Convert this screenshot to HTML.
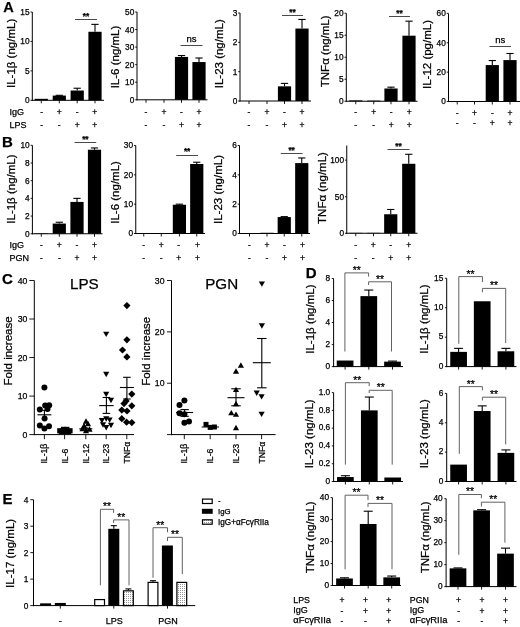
<!DOCTYPE html><html><head><meta charset="utf-8"><style>html,body{margin:0;padding:0;background:#fff;}svg{display:block;}text{font-family:"Liberation Sans", Arial, sans-serif;stroke:#000;stroke-width:0.25px;}</style></head><body>
<svg width="520" height="627" viewBox="0 0 520 627">
<defs><pattern id="dots" width="2" height="2" patternUnits="userSpaceOnUse"><rect width="2" height="2" fill="#fff"/><rect x="0" y="0" width="1" height="1" fill="#999"/></pattern></defs>
<rect width="520" height="627" fill="#fff"/>
<text x="3.20" y="11.80" font-size="14.6" text-anchor="start" font-weight="bold" fill="#000">A</text>
<line x1="32.30" y1="12.00" x2="32.30" y2="100.80" stroke="#000" stroke-width="1.0"/>
<line x1="31.80" y1="100.30" x2="104.00" y2="100.30" stroke="#000" stroke-width="1.0"/>
<line x1="30.50" y1="100.30" x2="32.30" y2="100.30" stroke="#000" stroke-width="0.9"/>
<text x="29.60" y="103.29" font-size="8.3" text-anchor="end" fill="#000">0</text>
<line x1="30.50" y1="70.87" x2="32.30" y2="70.87" stroke="#000" stroke-width="0.9"/>
<text x="29.60" y="73.85" font-size="8.3" text-anchor="end" fill="#000">5</text>
<line x1="30.50" y1="41.43" x2="32.30" y2="41.43" stroke="#000" stroke-width="0.9"/>
<text x="29.60" y="44.42" font-size="8.3" text-anchor="end" fill="#000">10</text>
<line x1="30.50" y1="12.00" x2="32.30" y2="12.00" stroke="#000" stroke-width="0.9"/>
<text x="29.60" y="14.99" font-size="8.3" text-anchor="end" fill="#000">15</text>
<line x1="41.30" y1="100.30" x2="41.30" y2="103.30" stroke="#000" stroke-width="0.9"/>
<line x1="59.30" y1="100.30" x2="59.30" y2="103.30" stroke="#000" stroke-width="0.9"/>
<line x1="77.20" y1="100.30" x2="77.20" y2="103.30" stroke="#000" stroke-width="0.9"/>
<line x1="95.00" y1="100.30" x2="95.00" y2="103.30" stroke="#000" stroke-width="0.9"/>
<text x="15.18" y="53.40" font-size="11.5" text-anchor="middle" transform="rotate(-90 15.18 53.40)" fill="#000">IL-1β (ng/mL)</text>
<rect x="34.70" y="98.83" width="13.20" height="1.47" fill="#000"/>
<line x1="59.30" y1="95.30" x2="59.30" y2="95.59" stroke="#000" stroke-width="1.1"/>
<line x1="55.67" y1="95.30" x2="62.93" y2="95.30" stroke="#000" stroke-width="1.1"/>
<rect x="52.70" y="95.59" width="13.20" height="4.71" fill="#000"/>
<line x1="77.20" y1="88.23" x2="77.20" y2="90.53" stroke="#000" stroke-width="1.1"/>
<line x1="73.57" y1="88.23" x2="80.83" y2="88.23" stroke="#000" stroke-width="1.1"/>
<rect x="70.60" y="90.53" width="13.20" height="9.77" fill="#000"/>
<line x1="95.00" y1="24.36" x2="95.00" y2="31.78" stroke="#000" stroke-width="1.1"/>
<line x1="91.37" y1="24.36" x2="98.63" y2="24.36" stroke="#000" stroke-width="1.1"/>
<rect x="88.40" y="31.78" width="13.20" height="68.52" fill="#000"/>
<line x1="75.00" y1="19.50" x2="97.00" y2="19.50" stroke="#4a4a4a" stroke-width="1.0"/>
<text x="86.00" y="19.10" font-size="8.3" text-anchor="middle" font-weight="bold" fill="#000">**</text>
<line x1="137.00" y1="12.00" x2="137.00" y2="100.30" stroke="#000" stroke-width="1.0"/>
<line x1="136.50" y1="99.80" x2="207.50" y2="99.80" stroke="#000" stroke-width="1.0"/>
<line x1="135.20" y1="99.80" x2="137.00" y2="99.80" stroke="#000" stroke-width="0.9"/>
<text x="134.30" y="102.79" font-size="8.3" text-anchor="end" fill="#000">0</text>
<line x1="135.20" y1="82.24" x2="137.00" y2="82.24" stroke="#000" stroke-width="0.9"/>
<text x="134.30" y="85.23" font-size="8.3" text-anchor="end" fill="#000">10</text>
<line x1="135.20" y1="64.68" x2="137.00" y2="64.68" stroke="#000" stroke-width="0.9"/>
<text x="134.30" y="67.67" font-size="8.3" text-anchor="end" fill="#000">20</text>
<line x1="135.20" y1="47.12" x2="137.00" y2="47.12" stroke="#000" stroke-width="0.9"/>
<text x="134.30" y="50.11" font-size="8.3" text-anchor="end" fill="#000">30</text>
<line x1="135.20" y1="29.56" x2="137.00" y2="29.56" stroke="#000" stroke-width="0.9"/>
<text x="134.30" y="32.55" font-size="8.3" text-anchor="end" fill="#000">40</text>
<line x1="135.20" y1="12.00" x2="137.00" y2="12.00" stroke="#000" stroke-width="0.9"/>
<text x="134.30" y="14.99" font-size="8.3" text-anchor="end" fill="#000">50</text>
<line x1="146.00" y1="99.80" x2="146.00" y2="102.80" stroke="#000" stroke-width="0.9"/>
<line x1="164.00" y1="99.80" x2="164.00" y2="102.80" stroke="#000" stroke-width="0.9"/>
<line x1="181.50" y1="99.80" x2="181.50" y2="102.80" stroke="#000" stroke-width="0.9"/>
<line x1="199.00" y1="99.80" x2="199.00" y2="102.80" stroke="#000" stroke-width="0.9"/>
<text x="118.88" y="57.00" font-size="11.5" text-anchor="middle" transform="rotate(-90 118.88 57.00)" fill="#000">IL-6 (ng/mL)</text>
<line x1="181.50" y1="55.55" x2="181.50" y2="56.95" stroke="#000" stroke-width="1.1"/>
<line x1="177.87" y1="55.55" x2="185.13" y2="55.55" stroke="#000" stroke-width="1.1"/>
<rect x="174.90" y="56.95" width="13.20" height="42.85" fill="#000"/>
<line x1="199.00" y1="58.01" x2="199.00" y2="62.05" stroke="#000" stroke-width="1.1"/>
<line x1="195.37" y1="58.01" x2="202.63" y2="58.01" stroke="#000" stroke-width="1.1"/>
<rect x="192.40" y="62.05" width="13.20" height="37.75" fill="#000"/>
<line x1="180.50" y1="45.50" x2="202.50" y2="45.50" stroke="#4a4a4a" stroke-width="1.0"/>
<text x="191.50" y="41.90" font-size="9.5" text-anchor="middle" fill="#000">ns</text>
<line x1="240.00" y1="13.00" x2="240.00" y2="101.50" stroke="#000" stroke-width="1.0"/>
<line x1="239.50" y1="101.00" x2="311.00" y2="101.00" stroke="#000" stroke-width="1.0"/>
<line x1="238.20" y1="101.00" x2="240.00" y2="101.00" stroke="#000" stroke-width="0.9"/>
<text x="237.30" y="103.99" font-size="8.3" text-anchor="end" fill="#000">0</text>
<line x1="238.20" y1="71.67" x2="240.00" y2="71.67" stroke="#000" stroke-width="0.9"/>
<text x="237.30" y="74.65" font-size="8.3" text-anchor="end" fill="#000">1</text>
<line x1="238.20" y1="42.33" x2="240.00" y2="42.33" stroke="#000" stroke-width="0.9"/>
<text x="237.30" y="45.32" font-size="8.3" text-anchor="end" fill="#000">2</text>
<line x1="238.20" y1="13.00" x2="240.00" y2="13.00" stroke="#000" stroke-width="0.9"/>
<text x="237.30" y="15.99" font-size="8.3" text-anchor="end" fill="#000">3</text>
<line x1="249.00" y1="101.00" x2="249.00" y2="104.00" stroke="#000" stroke-width="0.9"/>
<line x1="267.00" y1="101.00" x2="267.00" y2="104.00" stroke="#000" stroke-width="0.9"/>
<line x1="284.50" y1="101.00" x2="284.50" y2="104.00" stroke="#000" stroke-width="0.9"/>
<line x1="302.00" y1="101.00" x2="302.00" y2="104.00" stroke="#000" stroke-width="0.9"/>
<text x="223.18" y="53.75" font-size="11.5" text-anchor="middle" transform="rotate(-90 223.18 53.75)" fill="#000">IL-23 (ng/mL)</text>
<line x1="284.50" y1="83.40" x2="284.50" y2="86.33" stroke="#000" stroke-width="1.1"/>
<line x1="280.87" y1="83.40" x2="288.13" y2="83.40" stroke="#000" stroke-width="1.1"/>
<rect x="277.90" y="86.33" width="13.20" height="14.67" fill="#000"/>
<line x1="302.00" y1="19.45" x2="302.00" y2="28.55" stroke="#000" stroke-width="1.1"/>
<line x1="298.37" y1="19.45" x2="305.63" y2="19.45" stroke="#000" stroke-width="1.1"/>
<rect x="295.40" y="28.55" width="13.20" height="72.45" fill="#000"/>
<line x1="282.00" y1="15.50" x2="303.00" y2="15.50" stroke="#4a4a4a" stroke-width="1.0"/>
<text x="292.50" y="14.90" font-size="8.3" text-anchor="middle" font-weight="bold" fill="#000">**</text>
<line x1="346.30" y1="13.25" x2="346.30" y2="101.75" stroke="#000" stroke-width="1.0"/>
<line x1="345.80" y1="101.25" x2="417.50" y2="101.25" stroke="#000" stroke-width="1.0"/>
<line x1="344.50" y1="101.25" x2="346.30" y2="101.25" stroke="#000" stroke-width="0.9"/>
<text x="343.60" y="104.24" font-size="8.3" text-anchor="end" fill="#000">0</text>
<line x1="344.50" y1="79.25" x2="346.30" y2="79.25" stroke="#000" stroke-width="0.9"/>
<text x="343.60" y="82.24" font-size="8.3" text-anchor="end" fill="#000">5</text>
<line x1="344.50" y1="57.25" x2="346.30" y2="57.25" stroke="#000" stroke-width="0.9"/>
<text x="343.60" y="60.24" font-size="8.3" text-anchor="end" fill="#000">10</text>
<line x1="344.50" y1="35.25" x2="346.30" y2="35.25" stroke="#000" stroke-width="0.9"/>
<text x="343.60" y="38.24" font-size="8.3" text-anchor="end" fill="#000">15</text>
<line x1="344.50" y1="13.25" x2="346.30" y2="13.25" stroke="#000" stroke-width="0.9"/>
<text x="343.60" y="16.24" font-size="8.3" text-anchor="end" fill="#000">20</text>
<line x1="355.75" y1="101.25" x2="355.75" y2="104.25" stroke="#000" stroke-width="0.9"/>
<line x1="373.75" y1="101.25" x2="373.75" y2="104.25" stroke="#000" stroke-width="0.9"/>
<line x1="391.00" y1="101.25" x2="391.00" y2="104.25" stroke="#000" stroke-width="0.9"/>
<line x1="409.00" y1="101.25" x2="409.00" y2="104.25" stroke="#000" stroke-width="0.9"/>
<text x="329.38" y="51.30" font-size="11.5" text-anchor="middle" transform="rotate(-90 329.38 51.30)" fill="#000">TNFα (ng/mL)</text>
<rect x="349.15" y="100.37" width="13.20" height="0.88" fill="#000"/>
<rect x="367.15" y="100.59" width="13.20" height="0.66" fill="#000"/>
<line x1="391.00" y1="87.17" x2="391.00" y2="88.49" stroke="#000" stroke-width="1.1"/>
<line x1="387.37" y1="87.17" x2="394.63" y2="87.17" stroke="#000" stroke-width="1.1"/>
<rect x="384.40" y="88.49" width="13.20" height="12.76" fill="#000"/>
<line x1="409.00" y1="21.17" x2="409.00" y2="35.69" stroke="#000" stroke-width="1.1"/>
<line x1="405.37" y1="21.17" x2="412.63" y2="21.17" stroke="#000" stroke-width="1.1"/>
<rect x="402.40" y="35.69" width="13.20" height="65.56" fill="#000"/>
<line x1="389.00" y1="16.50" x2="410.00" y2="16.50" stroke="#4a4a4a" stroke-width="1.0"/>
<text x="399.50" y="15.90" font-size="8.3" text-anchor="middle" font-weight="bold" fill="#000">**</text>
<line x1="448.50" y1="13.40" x2="448.50" y2="102.00" stroke="#000" stroke-width="1.0"/>
<line x1="448.00" y1="101.50" x2="520.00" y2="101.50" stroke="#000" stroke-width="1.0"/>
<line x1="446.70" y1="101.50" x2="448.50" y2="101.50" stroke="#000" stroke-width="0.9"/>
<text x="445.80" y="104.49" font-size="8.3" text-anchor="end" fill="#000">0</text>
<line x1="446.70" y1="72.13" x2="448.50" y2="72.13" stroke="#000" stroke-width="0.9"/>
<text x="445.80" y="75.12" font-size="8.3" text-anchor="end" fill="#000">20</text>
<line x1="446.70" y1="42.77" x2="448.50" y2="42.77" stroke="#000" stroke-width="0.9"/>
<text x="445.80" y="45.75" font-size="8.3" text-anchor="end" fill="#000">40</text>
<line x1="446.70" y1="13.40" x2="448.50" y2="13.40" stroke="#000" stroke-width="0.9"/>
<text x="445.80" y="16.39" font-size="8.3" text-anchor="end" fill="#000">60</text>
<line x1="457.20" y1="101.50" x2="457.20" y2="104.50" stroke="#000" stroke-width="0.9"/>
<line x1="474.50" y1="101.50" x2="474.50" y2="104.50" stroke="#000" stroke-width="0.9"/>
<line x1="492.30" y1="101.50" x2="492.30" y2="104.50" stroke="#000" stroke-width="0.9"/>
<line x1="510.00" y1="101.50" x2="510.00" y2="104.50" stroke="#000" stroke-width="0.9"/>
<text x="430.88" y="54.50" font-size="11.5" text-anchor="middle" transform="rotate(-90 430.88 54.50)" fill="#000">IL-12 (pg/mL)</text>
<line x1="492.30" y1="60.53" x2="492.30" y2="65.09" stroke="#000" stroke-width="1.1"/>
<line x1="488.67" y1="60.53" x2="495.93" y2="60.53" stroke="#000" stroke-width="1.1"/>
<rect x="485.70" y="65.09" width="13.20" height="36.41" fill="#000"/>
<line x1="510.00" y1="53.49" x2="510.00" y2="60.09" stroke="#000" stroke-width="1.1"/>
<line x1="506.37" y1="53.49" x2="513.63" y2="53.49" stroke="#000" stroke-width="1.1"/>
<rect x="503.40" y="60.09" width="13.20" height="41.41" fill="#000"/>
<line x1="489.50" y1="46.50" x2="511.00" y2="46.50" stroke="#4a4a4a" stroke-width="1.0"/>
<text x="500.25" y="43.20" font-size="9.5" text-anchor="middle" fill="#000">ns</text>
<text x="9.50" y="114.50" font-size="9" text-anchor="start" fill="#000">IgG</text>
<text x="9.50" y="127.50" font-size="9" text-anchor="start" fill="#000">LPS</text>
<text x="41.70" y="114.55" font-size="8.5" text-anchor="middle" fill="#000">-</text>
<text x="59.20" y="114.55" font-size="8.5" text-anchor="middle" fill="#000">+</text>
<text x="77.20" y="114.55" font-size="8.5" text-anchor="middle" fill="#000">-</text>
<text x="94.80" y="114.55" font-size="8.5" text-anchor="middle" fill="#000">+</text>
<text x="41.70" y="127.85" font-size="8.5" text-anchor="middle" fill="#000">-</text>
<text x="59.20" y="127.85" font-size="8.5" text-anchor="middle" fill="#000">-</text>
<text x="77.20" y="127.85" font-size="8.5" text-anchor="middle" fill="#000">+</text>
<text x="94.80" y="127.85" font-size="8.5" text-anchor="middle" fill="#000">+</text>
<text x="146.00" y="114.55" font-size="8.5" text-anchor="middle" fill="#000">-</text>
<text x="164.00" y="114.55" font-size="8.5" text-anchor="middle" fill="#000">+</text>
<text x="181.50" y="114.55" font-size="8.5" text-anchor="middle" fill="#000">-</text>
<text x="199.00" y="114.55" font-size="8.5" text-anchor="middle" fill="#000">+</text>
<text x="146.00" y="127.85" font-size="8.5" text-anchor="middle" fill="#000">-</text>
<text x="164.00" y="127.85" font-size="8.5" text-anchor="middle" fill="#000">-</text>
<text x="181.50" y="127.85" font-size="8.5" text-anchor="middle" fill="#000">+</text>
<text x="199.00" y="127.85" font-size="8.5" text-anchor="middle" fill="#000">+</text>
<text x="249.00" y="114.55" font-size="8.5" text-anchor="middle" fill="#000">-</text>
<text x="267.00" y="114.55" font-size="8.5" text-anchor="middle" fill="#000">+</text>
<text x="284.50" y="114.55" font-size="8.5" text-anchor="middle" fill="#000">-</text>
<text x="302.00" y="114.55" font-size="8.5" text-anchor="middle" fill="#000">+</text>
<text x="249.00" y="127.85" font-size="8.5" text-anchor="middle" fill="#000">-</text>
<text x="267.00" y="127.85" font-size="8.5" text-anchor="middle" fill="#000">-</text>
<text x="284.50" y="127.85" font-size="8.5" text-anchor="middle" fill="#000">+</text>
<text x="302.00" y="127.85" font-size="8.5" text-anchor="middle" fill="#000">+</text>
<text x="355.75" y="114.55" font-size="8.5" text-anchor="middle" fill="#000">-</text>
<text x="373.75" y="114.55" font-size="8.5" text-anchor="middle" fill="#000">+</text>
<text x="391.25" y="114.55" font-size="8.5" text-anchor="middle" fill="#000">-</text>
<text x="409.25" y="114.55" font-size="8.5" text-anchor="middle" fill="#000">+</text>
<text x="355.75" y="127.85" font-size="8.5" text-anchor="middle" fill="#000">-</text>
<text x="373.75" y="127.85" font-size="8.5" text-anchor="middle" fill="#000">-</text>
<text x="391.25" y="127.85" font-size="8.5" text-anchor="middle" fill="#000">+</text>
<text x="409.25" y="127.85" font-size="8.5" text-anchor="middle" fill="#000">+</text>
<text x="457.20" y="116.45" font-size="8.5" text-anchor="middle" fill="#000">-</text>
<text x="474.50" y="116.45" font-size="8.5" text-anchor="middle" fill="#000">+</text>
<text x="492.30" y="116.45" font-size="8.5" text-anchor="middle" fill="#000">-</text>
<text x="510.00" y="116.45" font-size="8.5" text-anchor="middle" fill="#000">+</text>
<text x="457.20" y="125.75" font-size="8.5" text-anchor="middle" fill="#000">-</text>
<text x="474.50" y="125.75" font-size="8.5" text-anchor="middle" fill="#000">-</text>
<text x="492.30" y="125.75" font-size="8.5" text-anchor="middle" fill="#000">+</text>
<text x="510.00" y="125.75" font-size="8.5" text-anchor="middle" fill="#000">+</text>
<text x="1.90" y="146.60" font-size="15" text-anchor="start" font-weight="bold" fill="#000">B</text>
<line x1="32.40" y1="145.30" x2="32.40" y2="234.25" stroke="#000" stroke-width="1.0"/>
<line x1="31.90" y1="233.75" x2="102.50" y2="233.75" stroke="#000" stroke-width="1.0"/>
<line x1="30.60" y1="233.75" x2="32.40" y2="233.75" stroke="#000" stroke-width="0.9"/>
<text x="29.70" y="236.74" font-size="8.3" text-anchor="end" fill="#000">0</text>
<line x1="30.60" y1="216.06" x2="32.40" y2="216.06" stroke="#000" stroke-width="0.9"/>
<text x="29.70" y="219.05" font-size="8.3" text-anchor="end" fill="#000">2</text>
<line x1="30.60" y1="198.37" x2="32.40" y2="198.37" stroke="#000" stroke-width="0.9"/>
<text x="29.70" y="201.36" font-size="8.3" text-anchor="end" fill="#000">4</text>
<line x1="30.60" y1="180.68" x2="32.40" y2="180.68" stroke="#000" stroke-width="0.9"/>
<text x="29.70" y="183.67" font-size="8.3" text-anchor="end" fill="#000">6</text>
<line x1="30.60" y1="162.99" x2="32.40" y2="162.99" stroke="#000" stroke-width="0.9"/>
<text x="29.70" y="165.98" font-size="8.3" text-anchor="end" fill="#000">8</text>
<line x1="30.60" y1="145.30" x2="32.40" y2="145.30" stroke="#000" stroke-width="0.9"/>
<text x="29.70" y="148.29" font-size="8.3" text-anchor="end" fill="#000">10</text>
<line x1="41.30" y1="233.75" x2="41.30" y2="236.75" stroke="#000" stroke-width="0.9"/>
<line x1="59.30" y1="233.75" x2="59.30" y2="236.75" stroke="#000" stroke-width="0.9"/>
<line x1="77.00" y1="233.75" x2="77.00" y2="236.75" stroke="#000" stroke-width="0.9"/>
<line x1="94.50" y1="233.75" x2="94.50" y2="236.75" stroke="#000" stroke-width="0.9"/>
<text x="14.88" y="189.10" font-size="11.5" text-anchor="middle" transform="rotate(-90 14.88 189.10)" fill="#000">IL-1β (ng/mL)</text>
<rect x="34.70" y="233.31" width="13.20" height="0.44" fill="#000"/>
<line x1="59.30" y1="222.25" x2="59.30" y2="223.58" stroke="#000" stroke-width="1.1"/>
<line x1="55.67" y1="222.25" x2="62.93" y2="222.25" stroke="#000" stroke-width="1.1"/>
<rect x="52.70" y="223.58" width="13.20" height="10.17" fill="#000"/>
<line x1="77.00" y1="198.37" x2="77.00" y2="201.91" stroke="#000" stroke-width="1.1"/>
<line x1="73.37" y1="198.37" x2="80.63" y2="198.37" stroke="#000" stroke-width="1.1"/>
<rect x="70.40" y="201.91" width="13.20" height="31.84" fill="#000"/>
<line x1="94.50" y1="147.95" x2="94.50" y2="149.72" stroke="#000" stroke-width="1.1"/>
<line x1="90.87" y1="147.95" x2="98.13" y2="147.95" stroke="#000" stroke-width="1.1"/>
<rect x="87.90" y="149.72" width="13.20" height="84.03" fill="#000"/>
<line x1="74.50" y1="142.50" x2="96.25" y2="142.50" stroke="#4a4a4a" stroke-width="1.0"/>
<text x="85.38" y="141.90" font-size="8.3" text-anchor="middle" font-weight="bold" fill="#000">**</text>
<line x1="135.75" y1="145.50" x2="135.75" y2="234.00" stroke="#000" stroke-width="1.0"/>
<line x1="135.25" y1="233.50" x2="205.00" y2="233.50" stroke="#000" stroke-width="1.0"/>
<line x1="133.95" y1="233.50" x2="135.75" y2="233.50" stroke="#000" stroke-width="0.9"/>
<text x="133.05" y="236.49" font-size="8.3" text-anchor="end" fill="#000">0</text>
<line x1="133.95" y1="204.17" x2="135.75" y2="204.17" stroke="#000" stroke-width="0.9"/>
<text x="133.05" y="207.15" font-size="8.3" text-anchor="end" fill="#000">10</text>
<line x1="133.95" y1="174.83" x2="135.75" y2="174.83" stroke="#000" stroke-width="0.9"/>
<text x="133.05" y="177.82" font-size="8.3" text-anchor="end" fill="#000">20</text>
<line x1="133.95" y1="145.50" x2="135.75" y2="145.50" stroke="#000" stroke-width="0.9"/>
<text x="133.05" y="148.49" font-size="8.3" text-anchor="end" fill="#000">30</text>
<line x1="143.75" y1="233.50" x2="143.75" y2="236.50" stroke="#000" stroke-width="0.9"/>
<line x1="161.25" y1="233.50" x2="161.25" y2="236.50" stroke="#000" stroke-width="0.9"/>
<line x1="179.40" y1="233.50" x2="179.40" y2="236.50" stroke="#000" stroke-width="0.9"/>
<line x1="196.75" y1="233.50" x2="196.75" y2="236.50" stroke="#000" stroke-width="0.9"/>
<text x="119.48" y="192.40" font-size="11.5" text-anchor="middle" transform="rotate(-90 119.48 192.40)" fill="#000">IL-6 (ng/mL)</text>
<line x1="179.40" y1="204.17" x2="179.40" y2="204.75" stroke="#000" stroke-width="1.1"/>
<line x1="175.77" y1="204.17" x2="183.03" y2="204.17" stroke="#000" stroke-width="1.1"/>
<rect x="172.80" y="204.75" width="13.20" height="28.75" fill="#000"/>
<line x1="196.75" y1="162.22" x2="196.75" y2="163.98" stroke="#000" stroke-width="1.1"/>
<line x1="193.12" y1="162.22" x2="200.38" y2="162.22" stroke="#000" stroke-width="1.1"/>
<rect x="190.15" y="163.98" width="13.20" height="69.52" fill="#000"/>
<line x1="176.25" y1="155.50" x2="198.00" y2="155.50" stroke="#4a4a4a" stroke-width="1.0"/>
<text x="187.12" y="154.40" font-size="8.3" text-anchor="middle" font-weight="bold" fill="#000">**</text>
<line x1="239.50" y1="145.50" x2="239.50" y2="234.00" stroke="#000" stroke-width="1.0"/>
<line x1="239.00" y1="233.50" x2="310.00" y2="233.50" stroke="#000" stroke-width="1.0"/>
<line x1="237.70" y1="233.50" x2="239.50" y2="233.50" stroke="#000" stroke-width="0.9"/>
<text x="236.80" y="236.49" font-size="8.3" text-anchor="end" fill="#000">0</text>
<line x1="237.70" y1="204.17" x2="239.50" y2="204.17" stroke="#000" stroke-width="0.9"/>
<text x="236.80" y="207.15" font-size="8.3" text-anchor="end" fill="#000">2</text>
<line x1="237.70" y1="174.83" x2="239.50" y2="174.83" stroke="#000" stroke-width="0.9"/>
<text x="236.80" y="177.82" font-size="8.3" text-anchor="end" fill="#000">4</text>
<line x1="237.70" y1="145.50" x2="239.50" y2="145.50" stroke="#000" stroke-width="0.9"/>
<text x="236.80" y="148.49" font-size="8.3" text-anchor="end" fill="#000">6</text>
<line x1="249.50" y1="233.50" x2="249.50" y2="236.50" stroke="#000" stroke-width="0.9"/>
<line x1="267.00" y1="233.50" x2="267.00" y2="236.50" stroke="#000" stroke-width="0.9"/>
<line x1="284.25" y1="233.50" x2="284.25" y2="236.50" stroke="#000" stroke-width="0.9"/>
<line x1="301.75" y1="233.50" x2="301.75" y2="236.50" stroke="#000" stroke-width="0.9"/>
<text x="222.48" y="189.50" font-size="11.5" text-anchor="middle" transform="rotate(-90 222.48 189.50)" fill="#000">IL-23 (ng/mL)</text>
<rect x="260.40" y="232.77" width="13.20" height="0.73" fill="#000"/>
<line x1="284.25" y1="216.63" x2="284.25" y2="217.07" stroke="#000" stroke-width="1.1"/>
<line x1="280.62" y1="216.63" x2="287.88" y2="216.63" stroke="#000" stroke-width="1.1"/>
<rect x="277.65" y="217.07" width="13.20" height="16.43" fill="#000"/>
<line x1="301.75" y1="157.97" x2="301.75" y2="163.10" stroke="#000" stroke-width="1.1"/>
<line x1="298.12" y1="157.97" x2="305.38" y2="157.97" stroke="#000" stroke-width="1.1"/>
<rect x="295.15" y="163.10" width="13.20" height="70.40" fill="#000"/>
<line x1="280.75" y1="153.50" x2="302.50" y2="153.50" stroke="#4a4a4a" stroke-width="1.0"/>
<text x="291.62" y="152.65" font-size="8.3" text-anchor="middle" font-weight="bold" fill="#000">**</text>
<line x1="346.75" y1="145.50" x2="346.75" y2="233.75" stroke="#000" stroke-width="1.0"/>
<line x1="346.25" y1="233.25" x2="417.50" y2="233.25" stroke="#000" stroke-width="1.0"/>
<line x1="344.95" y1="233.25" x2="346.75" y2="233.25" stroke="#000" stroke-width="0.9"/>
<text x="344.05" y="236.24" font-size="8.3" text-anchor="end" fill="#000">0</text>
<line x1="344.95" y1="196.69" x2="346.75" y2="196.69" stroke="#000" stroke-width="0.9"/>
<text x="344.05" y="199.68" font-size="8.3" text-anchor="end" fill="#000">50</text>
<line x1="344.95" y1="160.12" x2="346.75" y2="160.12" stroke="#000" stroke-width="0.9"/>
<text x="344.05" y="163.11" font-size="8.3" text-anchor="end" fill="#000">100</text>
<line x1="355.75" y1="233.25" x2="355.75" y2="236.25" stroke="#000" stroke-width="0.9"/>
<line x1="373.50" y1="233.25" x2="373.50" y2="236.25" stroke="#000" stroke-width="0.9"/>
<line x1="390.75" y1="233.25" x2="390.75" y2="236.25" stroke="#000" stroke-width="0.9"/>
<line x1="408.75" y1="233.25" x2="408.75" y2="236.25" stroke="#000" stroke-width="0.9"/>
<text x="325.88" y="188.00" font-size="11.5" text-anchor="middle" transform="rotate(-90 325.88 188.00)" fill="#000">TNFα (ng/mL)</text>
<rect x="349.15" y="232.88" width="13.20" height="0.37" fill="#000"/>
<rect x="366.90" y="232.88" width="13.20" height="0.37" fill="#000"/>
<line x1="390.75" y1="209.48" x2="390.75" y2="214.24" stroke="#000" stroke-width="1.1"/>
<line x1="387.12" y1="209.48" x2="394.38" y2="209.48" stroke="#000" stroke-width="1.1"/>
<rect x="384.15" y="214.24" width="13.20" height="19.01" fill="#000"/>
<line x1="408.75" y1="154.28" x2="408.75" y2="163.78" stroke="#000" stroke-width="1.1"/>
<line x1="405.12" y1="154.28" x2="412.38" y2="154.28" stroke="#000" stroke-width="1.1"/>
<rect x="402.15" y="163.78" width="13.20" height="69.47" fill="#000"/>
<line x1="387.50" y1="149.50" x2="409.50" y2="149.50" stroke="#4a4a4a" stroke-width="1.0"/>
<text x="398.50" y="148.90" font-size="8.3" text-anchor="middle" font-weight="bold" fill="#000">**</text>
<text x="9.50" y="248.30" font-size="9" text-anchor="start" fill="#000">IgG</text>
<text x="9.50" y="261.00" font-size="9" text-anchor="start" fill="#000">PGN</text>
<text x="41.30" y="248.05" font-size="8.5" text-anchor="middle" fill="#000">-</text>
<text x="59.30" y="248.05" font-size="8.5" text-anchor="middle" fill="#000">+</text>
<text x="77.00" y="248.05" font-size="8.5" text-anchor="middle" fill="#000">-</text>
<text x="94.50" y="248.05" font-size="8.5" text-anchor="middle" fill="#000">+</text>
<text x="41.30" y="260.55" font-size="8.5" text-anchor="middle" fill="#000">-</text>
<text x="59.30" y="260.55" font-size="8.5" text-anchor="middle" fill="#000">-</text>
<text x="77.00" y="260.55" font-size="8.5" text-anchor="middle" fill="#000">+</text>
<text x="94.50" y="260.55" font-size="8.5" text-anchor="middle" fill="#000">+</text>
<text x="143.75" y="248.05" font-size="8.5" text-anchor="middle" fill="#000">-</text>
<text x="161.25" y="248.05" font-size="8.5" text-anchor="middle" fill="#000">+</text>
<text x="178.75" y="248.05" font-size="8.5" text-anchor="middle" fill="#000">-</text>
<text x="197.50" y="248.05" font-size="8.5" text-anchor="middle" fill="#000">+</text>
<text x="143.75" y="260.55" font-size="8.5" text-anchor="middle" fill="#000">-</text>
<text x="161.25" y="260.55" font-size="8.5" text-anchor="middle" fill="#000">-</text>
<text x="178.75" y="260.55" font-size="8.5" text-anchor="middle" fill="#000">+</text>
<text x="197.50" y="260.55" font-size="8.5" text-anchor="middle" fill="#000">+</text>
<text x="249.50" y="248.05" font-size="8.5" text-anchor="middle" fill="#000">-</text>
<text x="267.00" y="248.05" font-size="8.5" text-anchor="middle" fill="#000">+</text>
<text x="284.50" y="248.05" font-size="8.5" text-anchor="middle" fill="#000">-</text>
<text x="302.50" y="248.05" font-size="8.5" text-anchor="middle" fill="#000">+</text>
<text x="249.50" y="260.55" font-size="8.5" text-anchor="middle" fill="#000">-</text>
<text x="267.00" y="260.55" font-size="8.5" text-anchor="middle" fill="#000">-</text>
<text x="284.50" y="260.55" font-size="8.5" text-anchor="middle" fill="#000">+</text>
<text x="302.50" y="260.55" font-size="8.5" text-anchor="middle" fill="#000">+</text>
<text x="355.75" y="248.05" font-size="8.5" text-anchor="middle" fill="#000">-</text>
<text x="373.25" y="248.05" font-size="8.5" text-anchor="middle" fill="#000">+</text>
<text x="390.75" y="248.05" font-size="8.5" text-anchor="middle" fill="#000">-</text>
<text x="408.75" y="248.05" font-size="8.5" text-anchor="middle" fill="#000">+</text>
<text x="355.75" y="260.55" font-size="8.5" text-anchor="middle" fill="#000">-</text>
<text x="373.25" y="260.55" font-size="8.5" text-anchor="middle" fill="#000">-</text>
<text x="390.75" y="260.55" font-size="8.5" text-anchor="middle" fill="#000">+</text>
<text x="408.75" y="260.55" font-size="8.5" text-anchor="middle" fill="#000">+</text>
<text x="1.90" y="283.80" font-size="15" text-anchor="start" font-weight="bold" fill="#000">C</text>
<line x1="34.30" y1="280.50" x2="34.30" y2="435.10" stroke="#000" stroke-width="1.0"/>
<line x1="33.80" y1="434.60" x2="134.00" y2="434.60" stroke="#000" stroke-width="1.0"/>
<line x1="29.30" y1="434.60" x2="34.30" y2="434.60" stroke="#000" stroke-width="0.9"/>
<text x="27.30" y="437.73" font-size="8.7" text-anchor="end" fill="#000">0</text>
<line x1="29.30" y1="396.08" x2="34.30" y2="396.08" stroke="#000" stroke-width="0.9"/>
<text x="27.30" y="399.21" font-size="8.7" text-anchor="end" fill="#000">10</text>
<line x1="29.30" y1="357.55" x2="34.30" y2="357.55" stroke="#000" stroke-width="0.9"/>
<text x="27.30" y="360.68" font-size="8.7" text-anchor="end" fill="#000">20</text>
<line x1="29.30" y1="319.02" x2="34.30" y2="319.02" stroke="#000" stroke-width="0.9"/>
<text x="27.30" y="322.16" font-size="8.7" text-anchor="end" fill="#000">30</text>
<line x1="29.30" y1="280.50" x2="34.30" y2="280.50" stroke="#000" stroke-width="0.9"/>
<text x="27.30" y="283.63" font-size="8.7" text-anchor="end" fill="#000">40</text>
<line x1="44.40" y1="434.60" x2="44.40" y2="439.20" stroke="#000" stroke-width="0.9"/>
<line x1="64.60" y1="434.60" x2="64.60" y2="439.20" stroke="#000" stroke-width="0.9"/>
<line x1="85.80" y1="434.60" x2="85.80" y2="439.20" stroke="#000" stroke-width="0.9"/>
<line x1="106.20" y1="434.60" x2="106.20" y2="439.20" stroke="#000" stroke-width="0.9"/>
<line x1="126.80" y1="434.60" x2="126.80" y2="439.20" stroke="#000" stroke-width="0.9"/>
<text x="12.30" y="350.90" font-size="11.5" text-anchor="middle" transform="rotate(-90 12.30 350.90)" fill="#000">Fold increase</text>
<text x="84.30" y="289.00" font-size="15.2" text-anchor="middle" fill="#000">LPS</text>
<text x="47.40" y="463.60" font-size="8.7" text-anchor="start" transform="rotate(-90 47.40 463.60)" fill="#000">IL-1β</text>
<text x="67.60" y="463.60" font-size="8.7" text-anchor="start" transform="rotate(-90 67.60 463.60)" fill="#000">IL-6</text>
<text x="88.80" y="463.60" font-size="8.7" text-anchor="start" transform="rotate(-90 88.80 463.60)" fill="#000">IL-12</text>
<text x="109.20" y="463.60" font-size="8.7" text-anchor="start" transform="rotate(-90 109.20 463.60)" fill="#000">IL-23</text>
<text x="129.80" y="463.60" font-size="8.7" text-anchor="start" transform="rotate(-90 129.80 463.60)" fill="#000">TNFα</text>
<circle cx="44.40" cy="387.50" r="3.0" fill="#000"/>
<circle cx="45.20" cy="405.40" r="3.0" fill="#000"/>
<circle cx="49.20" cy="405.20" r="3.0" fill="#000"/>
<circle cx="39.80" cy="409.40" r="3.0" fill="#000"/>
<circle cx="44.60" cy="418.50" r="3.0" fill="#000"/>
<circle cx="39.80" cy="425.60" r="3.0" fill="#000"/>
<circle cx="44.40" cy="428.50" r="3.0" fill="#000"/>
<circle cx="49.00" cy="426.20" r="3.0" fill="#000"/>
<circle cx="47.50" cy="409.00" r="3.0" fill="#000"/>
<line x1="37.40" y1="414.80" x2="51.40" y2="414.80" stroke="#000" stroke-width="1.1"/>
<line x1="44.40" y1="410.30" x2="44.40" y2="418.80" stroke="#000" stroke-width="1.1"/>
<line x1="41.80" y1="410.30" x2="47.00" y2="410.30" stroke="#000" stroke-width="1.1"/>
<line x1="41.80" y1="418.80" x2="47.00" y2="418.80" stroke="#000" stroke-width="1.1"/>
<rect x="57.20" y="428.20" width="5.20" height="5.20" fill="#000"/>
<rect x="60.90" y="426.80" width="5.20" height="5.20" fill="#000"/>
<rect x="64.20" y="426.80" width="5.20" height="5.20" fill="#000"/>
<rect x="67.40" y="428.20" width="5.20" height="5.20" fill="#000"/>
<rect x="58.90" y="428.90" width="5.20" height="5.20" fill="#000"/>
<rect x="62.90" y="428.90" width="5.20" height="5.20" fill="#000"/>
<rect x="65.90" y="428.90" width="5.20" height="5.20" fill="#000"/>
<polygon points="86.00,418.26 82.90,423.66 89.10,423.66" fill="#000"/>
<polygon points="82.50,425.76 79.40,431.16 85.60,431.16" fill="#000"/>
<polygon points="89.50,426.26 86.40,431.66 92.60,431.66" fill="#000"/>
<polygon points="86.00,427.76 82.90,433.16 89.10,433.16" fill="#000"/>
<polygon points="84.00,422.76 80.90,428.16 87.10,428.16" fill="#000"/>
<polygon points="88.00,420.76 84.90,426.16 91.10,426.16" fill="#000"/>
<line x1="79.30" y1="428.80" x2="92.30" y2="428.80" stroke="#000" stroke-width="1.1"/>
<line x1="85.80" y1="428.00" x2="85.80" y2="430.00" stroke="#000" stroke-width="1.1"/>
<line x1="83.30" y1="428.00" x2="88.30" y2="428.00" stroke="#000" stroke-width="1.1"/>
<line x1="83.30" y1="430.00" x2="88.30" y2="430.00" stroke="#000" stroke-width="1.1"/>
<polygon points="106.20,337.04 103.10,331.64 109.30,331.64" fill="#000"/>
<polygon points="106.20,377.24 103.10,371.84 109.30,371.84" fill="#000"/>
<polygon points="106.20,397.14 103.10,391.74 109.30,391.74" fill="#000"/>
<polygon points="111.00,403.14 107.90,397.74 114.10,397.74" fill="#000"/>
<polygon points="101.90,423.44 98.80,418.04 105.00,418.04" fill="#000"/>
<polygon points="106.20,421.74 103.10,416.34 109.30,416.34" fill="#000"/>
<polygon points="109.60,422.84 106.50,417.44 112.70,417.44" fill="#000"/>
<polygon points="111.00,428.24 107.90,422.84 114.10,422.84" fill="#000"/>
<polygon points="106.20,430.44 103.10,425.04 109.30,425.04" fill="#000"/>
<polygon points="103.00,427.74 99.90,422.34 106.10,422.34" fill="#000"/>
<line x1="99.20" y1="405.60" x2="113.60" y2="405.60" stroke="#000" stroke-width="1.1"/>
<line x1="106.40" y1="397.50" x2="106.40" y2="413.40" stroke="#000" stroke-width="1.1"/>
<line x1="102.60" y1="397.50" x2="110.20" y2="397.50" stroke="#000" stroke-width="1.1"/>
<line x1="102.60" y1="413.40" x2="110.20" y2="413.40" stroke="#000" stroke-width="1.1"/>
<polygon points="126.90,302.00 130.50,305.60 126.90,309.20 123.30,305.60" fill="#000"/>
<polygon points="126.90,336.20 130.50,339.80 126.90,343.40 123.30,339.80" fill="#000"/>
<polygon points="122.50,346.40 126.10,350.00 122.50,353.60 118.90,350.00" fill="#000"/>
<polygon points="126.90,353.30 130.50,356.90 126.90,360.50 123.30,356.90" fill="#000"/>
<polygon points="131.80,390.50 135.40,394.10 131.80,397.70 128.20,394.10" fill="#000"/>
<polygon points="126.10,397.40 129.70,401.00 126.10,404.60 122.50,401.00" fill="#000"/>
<polygon points="124.00,400.00 127.60,403.60 124.00,407.20 120.40,403.60" fill="#000"/>
<polygon points="131.80,402.20 135.40,405.80 131.80,409.40 128.20,405.80" fill="#000"/>
<polygon points="121.80,406.50 125.40,410.10 121.80,413.70 118.20,410.10" fill="#000"/>
<polygon points="127.00,407.40 130.60,411.00 127.00,414.60 123.40,411.00" fill="#000"/>
<polygon points="121.80,415.10 125.40,418.70 121.80,422.30 118.20,418.70" fill="#000"/>
<polygon points="126.60,418.60 130.20,422.20 126.60,425.80 123.00,422.20" fill="#000"/>
<polygon points="131.80,419.00 135.40,422.60 131.80,426.20 128.20,422.60" fill="#000"/>
<line x1="119.90" y1="387.50" x2="133.90" y2="387.50" stroke="#000" stroke-width="1.1"/>
<line x1="126.90" y1="377.30" x2="126.90" y2="399.00" stroke="#000" stroke-width="1.1"/>
<line x1="123.10" y1="377.30" x2="130.70" y2="377.30" stroke="#000" stroke-width="1.1"/>
<line x1="123.10" y1="399.00" x2="130.70" y2="399.00" stroke="#000" stroke-width="1.1"/>
<line x1="171.50" y1="280.50" x2="171.50" y2="435.10" stroke="#000" stroke-width="1.0"/>
<line x1="171.00" y1="434.60" x2="275.60" y2="434.60" stroke="#000" stroke-width="1.0"/>
<line x1="167.00" y1="434.60" x2="171.50" y2="434.60" stroke="#000" stroke-width="0.9"/>
<text x="164.50" y="437.73" font-size="8.7" text-anchor="end" fill="#000"></text>
<line x1="167.00" y1="383.23" x2="171.50" y2="383.23" stroke="#000" stroke-width="0.9"/>
<text x="164.50" y="386.37" font-size="8.7" text-anchor="end" fill="#000">10</text>
<line x1="167.00" y1="331.87" x2="171.50" y2="331.87" stroke="#000" stroke-width="0.9"/>
<text x="164.50" y="335.00" font-size="8.7" text-anchor="end" fill="#000">20</text>
<line x1="167.00" y1="280.50" x2="171.50" y2="280.50" stroke="#000" stroke-width="0.9"/>
<text x="164.50" y="283.63" font-size="8.7" text-anchor="end" fill="#000">30</text>
<line x1="184.30" y1="434.60" x2="184.30" y2="439.20" stroke="#000" stroke-width="0.9"/>
<line x1="210.20" y1="434.60" x2="210.20" y2="439.20" stroke="#000" stroke-width="0.9"/>
<line x1="236.00" y1="434.60" x2="236.00" y2="439.20" stroke="#000" stroke-width="0.9"/>
<line x1="261.60" y1="434.60" x2="261.60" y2="439.20" stroke="#000" stroke-width="0.9"/>
<text x="149.80" y="351.30" font-size="11.5" text-anchor="middle" transform="rotate(-90 149.80 351.30)" fill="#000">Fold increase</text>
<text x="221.70" y="288.90" font-size="15.2" text-anchor="middle" fill="#000">PGN</text>
<text x="187.30" y="463.60" font-size="8.7" text-anchor="start" transform="rotate(-90 187.30 463.60)" fill="#000">IL-1β</text>
<text x="213.20" y="463.60" font-size="8.7" text-anchor="start" transform="rotate(-90 213.20 463.60)" fill="#000">IL-6</text>
<text x="239.00" y="463.60" font-size="8.7" text-anchor="start" transform="rotate(-90 239.00 463.60)" fill="#000">IL-23</text>
<text x="264.60" y="463.60" font-size="8.7" text-anchor="start" transform="rotate(-90 264.60 463.60)" fill="#000">TNFα</text>
<circle cx="184.40" cy="400.50" r="3.0" fill="#000"/>
<circle cx="179.50" cy="405.10" r="3.0" fill="#000"/>
<circle cx="179.50" cy="413.20" r="3.0" fill="#000"/>
<circle cx="184.40" cy="414.20" r="3.0" fill="#000"/>
<circle cx="184.40" cy="422.70" r="3.0" fill="#000"/>
<circle cx="189.00" cy="421.60" r="3.0" fill="#000"/>
<line x1="176.10" y1="412.50" x2="193.10" y2="412.50" stroke="#000" stroke-width="1.1"/>
<line x1="184.60" y1="409.60" x2="184.60" y2="416.30" stroke="#000" stroke-width="1.1"/>
<line x1="180.40" y1="409.60" x2="188.80" y2="409.60" stroke="#000" stroke-width="1.1"/>
<line x1="180.40" y1="416.30" x2="188.80" y2="416.30" stroke="#000" stroke-width="1.1"/>
<rect x="203.50" y="421.90" width="5.00" height="5.00" fill="#000"/>
<rect x="207.70" y="424.90" width="5.00" height="5.00" fill="#000"/>
<rect x="211.90" y="424.50" width="5.00" height="5.00" fill="#000"/>
<line x1="201.70" y1="427.00" x2="219.00" y2="427.00" stroke="#000" stroke-width="1.0"/>
<polygon points="240.90,362.36 237.80,367.76 244.00,367.76" fill="#000"/>
<polygon points="236.00,368.26 232.90,373.66 239.10,373.66" fill="#000"/>
<polygon points="236.00,386.66 232.90,392.06 239.10,392.06" fill="#000"/>
<polygon points="236.00,400.86 232.90,406.26 239.10,406.26" fill="#000"/>
<polygon points="231.30,409.96 228.20,415.36 234.40,415.36" fill="#000"/>
<polygon points="236.00,411.46 232.90,416.86 239.10,416.86" fill="#000"/>
<polygon points="236.00,424.76 232.90,430.16 239.10,430.16" fill="#000"/>
<line x1="227.50" y1="397.70" x2="244.50" y2="397.70" stroke="#000" stroke-width="1.1"/>
<line x1="236.00" y1="388.80" x2="236.00" y2="405.80" stroke="#000" stroke-width="1.1"/>
<line x1="231.30" y1="388.80" x2="240.70" y2="388.80" stroke="#000" stroke-width="1.1"/>
<line x1="231.30" y1="405.80" x2="240.70" y2="405.80" stroke="#000" stroke-width="1.1"/>
<polygon points="261.90,286.84 258.80,281.44 265.00,281.44" fill="#000"/>
<polygon points="261.90,328.74 258.80,323.34 265.00,323.34" fill="#000"/>
<polygon points="256.70,395.94 253.60,390.54 259.80,390.54" fill="#000"/>
<polygon points="261.60,399.54 258.50,394.14 264.70,394.14" fill="#000"/>
<polygon points="261.60,417.04 258.50,411.64 264.70,411.64" fill="#000"/>
<line x1="252.80" y1="362.70" x2="270.80" y2="362.70" stroke="#000" stroke-width="1.1"/>
<line x1="261.80" y1="338.50" x2="261.80" y2="387.80" stroke="#000" stroke-width="1.1"/>
<line x1="257.10" y1="338.50" x2="266.50" y2="338.50" stroke="#000" stroke-width="1.1"/>
<line x1="257.10" y1="387.80" x2="266.50" y2="387.80" stroke="#000" stroke-width="1.1"/>
<text x="305.70" y="277.60" font-size="15" text-anchor="start" font-weight="bold" fill="#000">D</text>
<line x1="333.60" y1="278.50" x2="333.60" y2="367.10" stroke="#000" stroke-width="1.0"/>
<line x1="333.10" y1="366.60" x2="403.00" y2="366.60" stroke="#000" stroke-width="1.0"/>
<line x1="331.80" y1="366.60" x2="333.60" y2="366.60" stroke="#000" stroke-width="0.9"/>
<text x="330.20" y="368.92" font-size="8.3" text-anchor="end" fill="#000">0</text>
<line x1="331.80" y1="344.58" x2="333.60" y2="344.58" stroke="#000" stroke-width="0.9"/>
<text x="330.20" y="346.90" font-size="8.3" text-anchor="end" fill="#000">2</text>
<line x1="331.80" y1="322.55" x2="333.60" y2="322.55" stroke="#000" stroke-width="0.9"/>
<text x="330.20" y="324.87" font-size="8.3" text-anchor="end" fill="#000">4</text>
<line x1="331.80" y1="300.52" x2="333.60" y2="300.52" stroke="#000" stroke-width="0.9"/>
<text x="330.20" y="302.85" font-size="8.3" text-anchor="end" fill="#000">6</text>
<line x1="331.80" y1="278.50" x2="333.60" y2="278.50" stroke="#000" stroke-width="0.9"/>
<text x="330.20" y="280.82" font-size="8.3" text-anchor="end" fill="#000">8</text>
<line x1="345.10" y1="366.60" x2="345.10" y2="369.60" stroke="#000" stroke-width="0.9"/>
<line x1="368.80" y1="366.60" x2="368.80" y2="369.60" stroke="#000" stroke-width="0.9"/>
<line x1="392.50" y1="366.60" x2="392.50" y2="369.60" stroke="#000" stroke-width="0.9"/>
<text x="313.58" y="319.10" font-size="11.5" text-anchor="middle" transform="rotate(-90 313.58 319.10)" fill="#000">IL-1β (ng/mL)</text>
<rect x="336.75" y="360.54" width="16.70" height="6.06" fill="#000"/>
<line x1="368.80" y1="290.06" x2="368.80" y2="296.12" stroke="#000" stroke-width="1.1"/>
<line x1="364.30" y1="290.06" x2="373.30" y2="290.06" stroke="#000" stroke-width="1.1"/>
<rect x="360.45" y="296.12" width="16.70" height="70.48" fill="#000"/>
<line x1="392.50" y1="361.09" x2="392.50" y2="361.64" stroke="#000" stroke-width="1.1"/>
<line x1="388.00" y1="361.09" x2="397.00" y2="361.09" stroke="#000" stroke-width="1.1"/>
<rect x="384.15" y="361.64" width="16.70" height="4.96" fill="#000"/>
<polyline points="344.90,351.50 344.90,272.90 368.60,272.90 368.60,276.60" fill="none" stroke="#5a5a5a" stroke-width="0.95"/>
<text x="356.75" y="273.80" font-size="10.3" text-anchor="middle" fill="#000">**</text>
<polyline points="368.60,285.00 368.60,281.80 391.50,281.80 391.50,351.50" fill="none" stroke="#5a5a5a" stroke-width="0.95"/>
<text x="380.05" y="282.70" font-size="10.3" text-anchor="middle" fill="#000">**</text>
<line x1="446.70" y1="278.30" x2="446.70" y2="367.10" stroke="#000" stroke-width="1.0"/>
<line x1="446.20" y1="366.60" x2="516.50" y2="366.60" stroke="#000" stroke-width="1.0"/>
<line x1="444.90" y1="366.60" x2="446.70" y2="366.60" stroke="#000" stroke-width="0.9"/>
<text x="443.30" y="368.92" font-size="8.3" text-anchor="end" fill="#000">0</text>
<line x1="444.90" y1="337.17" x2="446.70" y2="337.17" stroke="#000" stroke-width="0.9"/>
<text x="443.30" y="339.49" font-size="8.3" text-anchor="end" fill="#000">5</text>
<line x1="444.90" y1="307.73" x2="446.70" y2="307.73" stroke="#000" stroke-width="0.9"/>
<text x="443.30" y="310.06" font-size="8.3" text-anchor="end" fill="#000">10</text>
<line x1="444.90" y1="278.30" x2="446.70" y2="278.30" stroke="#000" stroke-width="0.9"/>
<text x="443.30" y="280.62" font-size="8.3" text-anchor="end" fill="#000">15</text>
<line x1="458.60" y1="366.60" x2="458.60" y2="369.60" stroke="#000" stroke-width="0.9"/>
<line x1="482.20" y1="366.60" x2="482.20" y2="369.60" stroke="#000" stroke-width="0.9"/>
<line x1="505.90" y1="366.60" x2="505.90" y2="369.60" stroke="#000" stroke-width="0.9"/>
<text x="428.38" y="319.10" font-size="11.5" text-anchor="middle" transform="rotate(-90 428.38 319.10)" fill="#000">IL-1β (ng/mL)</text>
<line x1="458.60" y1="348.35" x2="458.60" y2="351.88" stroke="#000" stroke-width="1.1"/>
<line x1="454.10" y1="348.35" x2="463.10" y2="348.35" stroke="#000" stroke-width="1.1"/>
<rect x="450.25" y="351.88" width="16.70" height="14.72" fill="#000"/>
<rect x="473.85" y="301.26" width="16.70" height="65.34" fill="#000"/>
<line x1="505.90" y1="348.35" x2="505.90" y2="351.29" stroke="#000" stroke-width="1.1"/>
<line x1="501.40" y1="348.35" x2="510.40" y2="348.35" stroke="#000" stroke-width="1.1"/>
<rect x="497.55" y="351.29" width="16.70" height="15.31" fill="#000"/>
<polyline points="458.80,343.80 458.80,276.60 482.40,276.60 482.40,282.00" fill="none" stroke="#5a5a5a" stroke-width="0.95"/>
<text x="470.60" y="277.50" font-size="10.3" text-anchor="middle" fill="#000">**</text>
<polyline points="482.40,292.30 482.40,288.40 505.70,288.40 505.70,343.10" fill="none" stroke="#5a5a5a" stroke-width="0.95"/>
<text x="494.05" y="289.30" font-size="10.3" text-anchor="middle" fill="#000">**</text>
<line x1="333.60" y1="392.60" x2="333.60" y2="482.00" stroke="#000" stroke-width="1.0"/>
<line x1="333.10" y1="481.50" x2="403.00" y2="481.50" stroke="#000" stroke-width="1.0"/>
<line x1="331.80" y1="481.50" x2="333.60" y2="481.50" stroke="#000" stroke-width="0.9"/>
<text x="330.20" y="483.82" font-size="8.3" text-anchor="end" fill="#000">0</text>
<line x1="331.80" y1="463.72" x2="333.60" y2="463.72" stroke="#000" stroke-width="0.9"/>
<text x="330.20" y="466.04" font-size="8.3" text-anchor="end" fill="#000">0.2</text>
<line x1="331.80" y1="445.94" x2="333.60" y2="445.94" stroke="#000" stroke-width="0.9"/>
<text x="330.20" y="448.26" font-size="8.3" text-anchor="end" fill="#000">0.4</text>
<line x1="331.80" y1="428.16" x2="333.60" y2="428.16" stroke="#000" stroke-width="0.9"/>
<text x="330.20" y="430.48" font-size="8.3" text-anchor="end" fill="#000">0.6</text>
<line x1="331.80" y1="410.38" x2="333.60" y2="410.38" stroke="#000" stroke-width="0.9"/>
<text x="330.20" y="412.70" font-size="8.3" text-anchor="end" fill="#000">0.8</text>
<line x1="331.80" y1="392.60" x2="333.60" y2="392.60" stroke="#000" stroke-width="0.9"/>
<text x="330.20" y="394.92" font-size="8.3" text-anchor="end" fill="#000">1.0</text>
<line x1="345.40" y1="481.50" x2="345.40" y2="484.50" stroke="#000" stroke-width="0.9"/>
<line x1="369.30" y1="481.50" x2="369.30" y2="484.50" stroke="#000" stroke-width="0.9"/>
<line x1="392.70" y1="481.50" x2="392.70" y2="484.50" stroke="#000" stroke-width="0.9"/>
<text x="312.68" y="433.80" font-size="11.5" text-anchor="middle" transform="rotate(-90 312.68 433.80)" fill="#000">IL-23 (ng/mL)</text>
<line x1="345.40" y1="475.72" x2="345.40" y2="477.06" stroke="#000" stroke-width="1.1"/>
<line x1="340.90" y1="475.72" x2="349.90" y2="475.72" stroke="#000" stroke-width="1.1"/>
<rect x="337.05" y="477.06" width="16.70" height="4.44" fill="#000"/>
<line x1="369.30" y1="397.05" x2="369.30" y2="410.38" stroke="#000" stroke-width="1.1"/>
<line x1="364.80" y1="397.05" x2="373.80" y2="397.05" stroke="#000" stroke-width="1.1"/>
<rect x="360.95" y="410.38" width="16.70" height="71.12" fill="#000"/>
<rect x="384.35" y="477.50" width="16.70" height="4.00" fill="#000"/>
<polyline points="345.40,464.60 345.40,382.70 369.20,382.70 369.20,386.20" fill="none" stroke="#5a5a5a" stroke-width="0.95"/>
<text x="357.30" y="383.60" font-size="10.3" text-anchor="middle" fill="#000">**</text>
<polyline points="369.20,393.00 369.20,390.30 392.20,390.30 392.20,464.60" fill="none" stroke="#5a5a5a" stroke-width="0.95"/>
<text x="380.70" y="391.20" font-size="10.3" text-anchor="middle" fill="#000">**</text>
<line x1="446.70" y1="393.40" x2="446.70" y2="482.00" stroke="#000" stroke-width="1.0"/>
<line x1="446.20" y1="481.50" x2="516.50" y2="481.50" stroke="#000" stroke-width="1.0"/>
<line x1="444.90" y1="481.50" x2="446.70" y2="481.50" stroke="#000" stroke-width="0.9"/>
<text x="443.30" y="483.82" font-size="8.3" text-anchor="end" fill="#000">0</text>
<line x1="444.90" y1="452.13" x2="446.70" y2="452.13" stroke="#000" stroke-width="0.9"/>
<text x="443.30" y="454.46" font-size="8.3" text-anchor="end" fill="#000">2</text>
<line x1="444.90" y1="422.77" x2="446.70" y2="422.77" stroke="#000" stroke-width="0.9"/>
<text x="443.30" y="425.09" font-size="8.3" text-anchor="end" fill="#000">4</text>
<line x1="444.90" y1="393.40" x2="446.70" y2="393.40" stroke="#000" stroke-width="0.9"/>
<text x="443.30" y="395.72" font-size="8.3" text-anchor="end" fill="#000">6</text>
<line x1="458.60" y1="481.50" x2="458.60" y2="484.50" stroke="#000" stroke-width="0.9"/>
<line x1="482.20" y1="481.50" x2="482.20" y2="484.50" stroke="#000" stroke-width="0.9"/>
<line x1="505.90" y1="481.50" x2="505.90" y2="484.50" stroke="#000" stroke-width="0.9"/>
<text x="428.38" y="433.80" font-size="11.5" text-anchor="middle" transform="rotate(-90 428.38 433.80)" fill="#000">IL-23 (ng/mL)</text>
<rect x="450.25" y="464.61" width="16.70" height="16.89" fill="#000"/>
<line x1="482.20" y1="405.88" x2="482.20" y2="411.02" stroke="#000" stroke-width="1.1"/>
<line x1="477.70" y1="405.88" x2="486.70" y2="405.88" stroke="#000" stroke-width="1.1"/>
<rect x="473.85" y="411.02" width="16.70" height="70.48" fill="#000"/>
<line x1="505.90" y1="449.93" x2="505.90" y2="452.87" stroke="#000" stroke-width="1.1"/>
<line x1="501.40" y1="449.93" x2="510.40" y2="449.93" stroke="#000" stroke-width="1.1"/>
<rect x="497.55" y="452.87" width="16.70" height="28.63" fill="#000"/>
<polyline points="459.30,453.80 459.30,386.60 482.40,386.60 482.40,390.30" fill="none" stroke="#5a5a5a" stroke-width="0.95"/>
<text x="470.85" y="387.50" font-size="10.3" text-anchor="middle" fill="#000">**</text>
<polyline points="482.40,400.50 482.40,397.20 505.70,397.20 505.70,444.40" fill="none" stroke="#5a5a5a" stroke-width="0.95"/>
<text x="494.05" y="398.10" font-size="10.3" text-anchor="middle" fill="#000">**</text>
<line x1="332.40" y1="497.60" x2="332.40" y2="586.00" stroke="#000" stroke-width="1.0"/>
<line x1="331.90" y1="585.50" x2="401.00" y2="585.50" stroke="#000" stroke-width="1.0"/>
<line x1="330.60" y1="585.50" x2="332.40" y2="585.50" stroke="#000" stroke-width="0.9"/>
<text x="329.00" y="587.82" font-size="8.3" text-anchor="end" fill="#000">0</text>
<line x1="330.60" y1="563.52" x2="332.40" y2="563.52" stroke="#000" stroke-width="0.9"/>
<text x="329.00" y="565.85" font-size="8.3" text-anchor="end" fill="#000">10</text>
<line x1="330.60" y1="541.55" x2="332.40" y2="541.55" stroke="#000" stroke-width="0.9"/>
<text x="329.00" y="543.87" font-size="8.3" text-anchor="end" fill="#000">20</text>
<line x1="330.60" y1="519.58" x2="332.40" y2="519.58" stroke="#000" stroke-width="0.9"/>
<text x="329.00" y="521.90" font-size="8.3" text-anchor="end" fill="#000">30</text>
<line x1="330.60" y1="497.60" x2="332.40" y2="497.60" stroke="#000" stroke-width="0.9"/>
<text x="329.00" y="499.92" font-size="8.3" text-anchor="end" fill="#000">40</text>
<line x1="344.50" y1="585.50" x2="344.50" y2="588.50" stroke="#000" stroke-width="0.9"/>
<line x1="368.20" y1="585.50" x2="368.20" y2="588.50" stroke="#000" stroke-width="0.9"/>
<line x1="391.70" y1="585.50" x2="391.70" y2="588.50" stroke="#000" stroke-width="0.9"/>
<text x="313.68" y="537.30" font-size="11.5" text-anchor="middle" transform="rotate(-90 313.68 537.30)" fill="#000">TNFα (ng/mL)</text>
<line x1="344.50" y1="577.81" x2="344.50" y2="578.47" stroke="#000" stroke-width="1.1"/>
<line x1="340.00" y1="577.81" x2="349.00" y2="577.81" stroke="#000" stroke-width="1.1"/>
<rect x="336.15" y="578.47" width="16.70" height="7.03" fill="#000"/>
<line x1="368.20" y1="511.22" x2="368.20" y2="523.97" stroke="#000" stroke-width="1.1"/>
<line x1="363.70" y1="511.22" x2="372.70" y2="511.22" stroke="#000" stroke-width="1.1"/>
<rect x="359.85" y="523.97" width="16.70" height="61.53" fill="#000"/>
<line x1="391.70" y1="576.05" x2="391.70" y2="577.37" stroke="#000" stroke-width="1.1"/>
<line x1="387.20" y1="576.05" x2="396.20" y2="576.05" stroke="#000" stroke-width="1.1"/>
<rect x="383.35" y="577.37" width="16.70" height="8.13" fill="#000"/>
<polyline points="345.10,569.30 345.10,495.20 368.00,495.20 368.00,500.00" fill="none" stroke="#5a5a5a" stroke-width="0.95"/>
<text x="356.55" y="496.10" font-size="10.3" text-anchor="middle" fill="#000">**</text>
<polyline points="368.00,507.00 368.00,503.40 392.00,503.40 392.00,569.30" fill="none" stroke="#5a5a5a" stroke-width="0.95"/>
<text x="380.00" y="504.30" font-size="10.3" text-anchor="middle" fill="#000">**</text>
<line x1="446.10" y1="498.70" x2="446.10" y2="587.10" stroke="#000" stroke-width="1.0"/>
<line x1="445.60" y1="586.60" x2="516.50" y2="586.60" stroke="#000" stroke-width="1.0"/>
<line x1="444.30" y1="586.60" x2="446.10" y2="586.60" stroke="#000" stroke-width="0.9"/>
<text x="442.70" y="588.92" font-size="8.3" text-anchor="end" fill="#000">0</text>
<line x1="444.30" y1="564.62" x2="446.10" y2="564.62" stroke="#000" stroke-width="0.9"/>
<text x="442.70" y="566.95" font-size="8.3" text-anchor="end" fill="#000">10</text>
<line x1="444.30" y1="542.65" x2="446.10" y2="542.65" stroke="#000" stroke-width="0.9"/>
<text x="442.70" y="544.97" font-size="8.3" text-anchor="end" fill="#000">20</text>
<line x1="444.30" y1="520.67" x2="446.10" y2="520.67" stroke="#000" stroke-width="0.9"/>
<text x="442.70" y="523.00" font-size="8.3" text-anchor="end" fill="#000">30</text>
<line x1="444.30" y1="498.70" x2="446.10" y2="498.70" stroke="#000" stroke-width="0.9"/>
<text x="442.70" y="501.02" font-size="8.3" text-anchor="end" fill="#000">40</text>
<line x1="458.00" y1="586.60" x2="458.00" y2="589.60" stroke="#000" stroke-width="0.9"/>
<line x1="481.60" y1="586.60" x2="481.60" y2="589.60" stroke="#000" stroke-width="0.9"/>
<line x1="505.50" y1="586.60" x2="505.50" y2="589.60" stroke="#000" stroke-width="0.9"/>
<text x="428.68" y="537.30" font-size="11.5" text-anchor="middle" transform="rotate(-90 428.68 537.30)" fill="#000">TNFα (ng/mL)</text>
<line x1="458.00" y1="567.92" x2="458.00" y2="568.36" stroke="#000" stroke-width="1.1"/>
<line x1="453.50" y1="567.92" x2="462.50" y2="567.92" stroke="#000" stroke-width="1.1"/>
<rect x="449.65" y="568.36" width="16.70" height="18.24" fill="#000"/>
<line x1="481.60" y1="509.69" x2="481.60" y2="510.35" stroke="#000" stroke-width="1.1"/>
<line x1="477.10" y1="509.69" x2="486.10" y2="509.69" stroke="#000" stroke-width="1.1"/>
<rect x="473.25" y="510.35" width="16.70" height="76.25" fill="#000"/>
<line x1="505.50" y1="548.14" x2="505.50" y2="553.64" stroke="#000" stroke-width="1.1"/>
<line x1="501.00" y1="548.14" x2="510.00" y2="548.14" stroke="#000" stroke-width="1.1"/>
<rect x="497.15" y="553.64" width="16.70" height="32.96" fill="#000"/>
<polyline points="458.80,554.80 458.80,494.50 481.40,494.50 481.40,498.30" fill="none" stroke="#5a5a5a" stroke-width="0.95"/>
<text x="470.10" y="495.40" font-size="10.3" text-anchor="middle" fill="#000">**</text>
<polyline points="481.40,506.50 481.40,502.20 504.90,502.20 504.90,542.60" fill="none" stroke="#5a5a5a" stroke-width="0.95"/>
<text x="493.15" y="503.10" font-size="10.3" text-anchor="middle" fill="#000">**</text>
<text x="293.30" y="603.10" font-size="8.8" text-anchor="start" fill="#000">LPS</text>
<text x="293.30" y="612.90" font-size="9.0" text-anchor="start" fill="#000">IgG</text>
<text x="293.30" y="623.30" font-size="9.4" text-anchor="start" fill="#000">αFcγRIIa</text>
<text x="409.80" y="603.10" font-size="8.8" text-anchor="start" fill="#000">PGN</text>
<text x="409.80" y="612.90" font-size="9.0" text-anchor="start" fill="#000">IgG</text>
<text x="409.80" y="623.30" font-size="9.4" text-anchor="start" fill="#000">αFcγRIIa</text>
<text x="342.00" y="602.85" font-size="8.5" text-anchor="middle" fill="#000">+</text>
<text x="365.40" y="602.85" font-size="8.5" text-anchor="middle" fill="#000">+</text>
<text x="388.80" y="602.85" font-size="8.5" text-anchor="middle" fill="#000">+</text>
<text x="342.00" y="613.85" font-size="8.5" text-anchor="middle" fill="#000">-</text>
<text x="365.40" y="613.85" font-size="8.5" text-anchor="middle" fill="#000">+</text>
<text x="388.80" y="613.85" font-size="8.5" text-anchor="middle" fill="#000">+</text>
<text x="342.00" y="623.85" font-size="8.5" text-anchor="middle" fill="#000">-</text>
<text x="365.40" y="623.85" font-size="8.5" text-anchor="middle" fill="#000">-</text>
<text x="388.80" y="623.85" font-size="8.5" text-anchor="middle" fill="#000">+</text>
<text x="458.60" y="602.85" font-size="8.5" text-anchor="middle" fill="#000">+</text>
<text x="482.00" y="602.85" font-size="8.5" text-anchor="middle" fill="#000">+</text>
<text x="505.50" y="602.85" font-size="8.5" text-anchor="middle" fill="#000">+</text>
<text x="458.60" y="613.85" font-size="8.5" text-anchor="middle" fill="#000">-</text>
<text x="482.00" y="613.85" font-size="8.5" text-anchor="middle" fill="#000">+</text>
<text x="505.50" y="613.85" font-size="8.5" text-anchor="middle" fill="#000">+</text>
<text x="458.60" y="623.85" font-size="8.5" text-anchor="middle" fill="#000">-</text>
<text x="482.00" y="623.85" font-size="8.5" text-anchor="middle" fill="#000">-</text>
<text x="505.50" y="623.85" font-size="8.5" text-anchor="middle" fill="#000">+</text>
<text x="2.60" y="503.60" font-size="15" text-anchor="start" font-weight="bold" fill="#000">E</text>
<line x1="33.50" y1="499.70" x2="33.50" y2="606.10" stroke="#000" stroke-width="1.0"/>
<line x1="33.00" y1="605.60" x2="195.20" y2="605.60" stroke="#000" stroke-width="1.0"/>
<line x1="30.30" y1="605.60" x2="33.50" y2="605.60" stroke="#000" stroke-width="0.9"/>
<text x="28.30" y="608.59" font-size="8.3" text-anchor="end" fill="#000">0</text>
<line x1="30.30" y1="579.12" x2="33.50" y2="579.12" stroke="#000" stroke-width="0.9"/>
<text x="28.30" y="582.11" font-size="8.3" text-anchor="end" fill="#000">1</text>
<line x1="30.30" y1="552.65" x2="33.50" y2="552.65" stroke="#000" stroke-width="0.9"/>
<text x="28.30" y="555.64" font-size="8.3" text-anchor="end" fill="#000">2</text>
<line x1="30.30" y1="526.17" x2="33.50" y2="526.17" stroke="#000" stroke-width="0.9"/>
<text x="28.30" y="529.16" font-size="8.3" text-anchor="end" fill="#000">3</text>
<line x1="30.30" y1="499.70" x2="33.50" y2="499.70" stroke="#000" stroke-width="0.9"/>
<text x="28.30" y="502.69" font-size="8.3" text-anchor="end" fill="#000">4</text>
<line x1="60.30" y1="605.60" x2="60.30" y2="608.60" stroke="#000" stroke-width="0.9"/>
<line x1="113.80" y1="605.60" x2="113.80" y2="608.60" stroke="#000" stroke-width="0.9"/>
<line x1="167.50" y1="605.60" x2="167.50" y2="608.60" stroke="#000" stroke-width="0.9"/>
<text x="13.78" y="553.40" font-size="11.5" text-anchor="middle" transform="rotate(-90 13.78 553.40)" fill="#000">IL-17 (ng/mL)</text>
<rect x="40.10" y="603.35" width="11.00" height="2.25" fill="#000"/>
<rect x="54.80" y="602.95" width="11.00" height="2.65" fill="#000"/>
<rect x="94.70" y="599.58" width="9.80" height="6.02" fill="#fff" stroke="#000" stroke-width="1.2"/>
<line x1="113.80" y1="525.65" x2="113.80" y2="528.82" stroke="#000" stroke-width="1.1"/>
<line x1="110.80" y1="525.65" x2="116.80" y2="525.65" stroke="#000" stroke-width="1.1"/>
<rect x="108.30" y="528.82" width="11.00" height="76.78" fill="#000"/>
<line x1="128.40" y1="588.92" x2="128.40" y2="590.24" stroke="#000" stroke-width="1.1"/>
<line x1="125.40" y1="588.92" x2="131.40" y2="588.92" stroke="#000" stroke-width="1.1"/>
<rect x="123.50" y="590.84" width="9.80" height="14.76" fill="url(#dots)" stroke="#000" stroke-width="1.2"/>
<line x1="153.00" y1="580.71" x2="153.00" y2="581.77" stroke="#000" stroke-width="1.1"/>
<line x1="150.00" y1="580.71" x2="156.00" y2="580.71" stroke="#000" stroke-width="1.1"/>
<rect x="148.10" y="582.37" width="9.80" height="23.23" fill="#fff" stroke="#000" stroke-width="1.2"/>
<rect x="161.90" y="545.50" width="11.00" height="60.10" fill="#000"/>
<rect x="176.90" y="582.37" width="9.80" height="23.23" fill="url(#dots)" stroke="#000" stroke-width="1.2"/>
<polyline points="100.40,585.30 100.40,509.30 113.60,509.30 113.60,512.90" fill="none" stroke="#5a5a5a" stroke-width="0.95"/>
<text x="107.00" y="510.20" font-size="10.3" text-anchor="middle" fill="#000">**</text>
<polyline points="113.60,523.00 113.60,519.90 129.00,519.90 129.00,585.30" fill="none" stroke="#5a5a5a" stroke-width="0.95"/>
<text x="121.30" y="520.80" font-size="10.3" text-anchor="middle" fill="#000">**</text>
<polyline points="153.00,577.80 153.00,527.70 167.50,527.70 167.50,532.30" fill="none" stroke="#5a5a5a" stroke-width="0.95"/>
<text x="160.25" y="528.60" font-size="10.3" text-anchor="middle" fill="#000">**</text>
<polyline points="167.50,541.00 167.50,537.30 182.30,537.30 182.30,574.10" fill="none" stroke="#5a5a5a" stroke-width="0.95"/>
<text x="174.90" y="538.20" font-size="10.3" text-anchor="middle" fill="#000">**</text>
<text x="60.30" y="623.60" font-size="9" text-anchor="middle" fill="#000">-</text>
<text x="114.20" y="623.60" font-size="9" text-anchor="middle" fill="#000">LPS</text>
<text x="167.90" y="623.60" font-size="9" text-anchor="middle" fill="#000">PGN</text>
<rect x="202.50" y="499.10" width="9.70" height="4.40" fill="#fff" stroke="#000" stroke-width="1.2"/>
<rect x="201.90" y="508.80" width="10.80" height="5.00" fill="#000"/>
<rect x="202.50" y="519.80" width="9.70" height="4.40" fill="url(#dots)" stroke="#000" stroke-width="1.2"/>
<text x="218.00" y="502.80" font-size="7.8" text-anchor="start" fill="#000">-</text>
<text x="218.00" y="513.50" font-size="7.8" text-anchor="start" fill="#000">IgG</text>
<text x="218.00" y="524.80" font-size="8.2" text-anchor="start" fill="#000">IgG+αFcγRIIa</text>
</svg></body></html>
